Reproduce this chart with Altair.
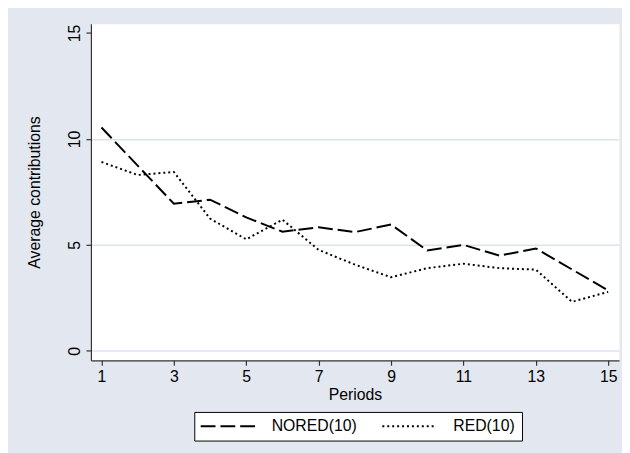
import altair as alt
import pandas as pd

# ---- data ----
periods = list(range(1, 16))
nored = [10.54, 8.74, 6.94, 7.13, 6.30, 5.62, 5.83, 5.60, 5.96, 4.73, 5.00, 4.49, 4.83, 3.84, 2.85]
red = [8.91, 8.30, 8.44, 6.24, 5.26, 6.19, 4.76, 4.07, 3.47, 3.90, 4.11, 3.90, 3.83, 2.31, 2.78]
series_names = ["NORED(10)", "RED(10)"]
x_ticks = [1, 3, 5, 7, 9, 11, 13, 15]
y_ticks = [0, 5, 10, 15]

rows = []
for name, vals in zip(series_names, [nored, red]):
    for p, v in zip(periods, vals):
        rows.append({"period": p, "value": v, "series": name})
df = pd.DataFrame(rows)

FONT = "Liberation Sans, Arial, Helvetica, sans-serif"
BG = "#E2E7F0"
GRID = "#DCE2EC"
AXIS = "#333333"

chart = (
    alt.Chart(df)
    .mark_line(color="black", strokeWidth=2, strokeCap="butt")
    .encode(
        x=alt.X(
            "period:Q",
            scale=alt.Scale(domain=[0.708, 15.30], nice=False, zero=False),
            axis=alt.Axis(
                values=x_ticks, title="Periods", grid=False,
                tickSize=5, labelPadding=16.3, labelAngle=0,
                labelAlign="center", labelBaseline="alphabetic",
                titleY=39.5, titleBaseline="alphabetic",
            ),
        ),
        y=alt.Y(
            "value:Q",
            scale=alt.Scale(domain=[-0.45, 15.44], nice=False, zero=False),
            axis=alt.Axis(
                values=y_ticks, title="Average contributions",
                grid=True, gridColor=GRID, gridWidth=1.5,
                gridOpacity={"condition": {"test": "datum.value >= 15", "value": 0}, "value": 1},
                tickSize=5, labelPadding=7, labelAngle=270,
                labelAlign="center", labelBaseline="alphabetic",
                titleAngle=270, titleX=-52.2, titleY=170.5,
                titleAlign="center", titleBaseline="alphabetic",
            ),
        ),
        strokeDash=alt.StrokeDash(
            "series:N",
            scale=alt.Scale(domain=series_names, range=[[15, 5], [2, 3]]),
            legend=alt.Legend(
                title=None, orient="none", legendX=104.7, legendY=393.3,
                direction="horizontal", columns=2,
                symbolType="M-5.5,0H5.5", symbolSize=100, symbolStrokeWidth=2,
                symbolStrokeColor="black", symbolOffset=19.5,
                labelOffset=36.4, columnPadding=21, padding=6.5,
                strokeColor="black", fillColor="white",
                labelFont=FONT, labelFontSize=16, labelColor="black",
            ),
        ),
    )
    .properties(
        width=535, height=341,
        padding={"left": 84, "top": 13, "right": 3, "bottom": 91},
        autosize=alt.AutoSizeParams(type="none"),
        background=BG,
    )
    .configure_view(fill="white", stroke="transparent")
    .configure_axis(
        domainColor=AXIS, domainWidth=1.2, tickColor=AXIS, tickWidth=1.2,
        labelFont=FONT, labelFontSize=16, labelColor="black",
        titleFont=FONT, titleFontSize=16, titleColor="black", titleFontWeight="normal",
    )
)

chart.save("out.html", embed_options={"renderer": "svg", "actions": False})
